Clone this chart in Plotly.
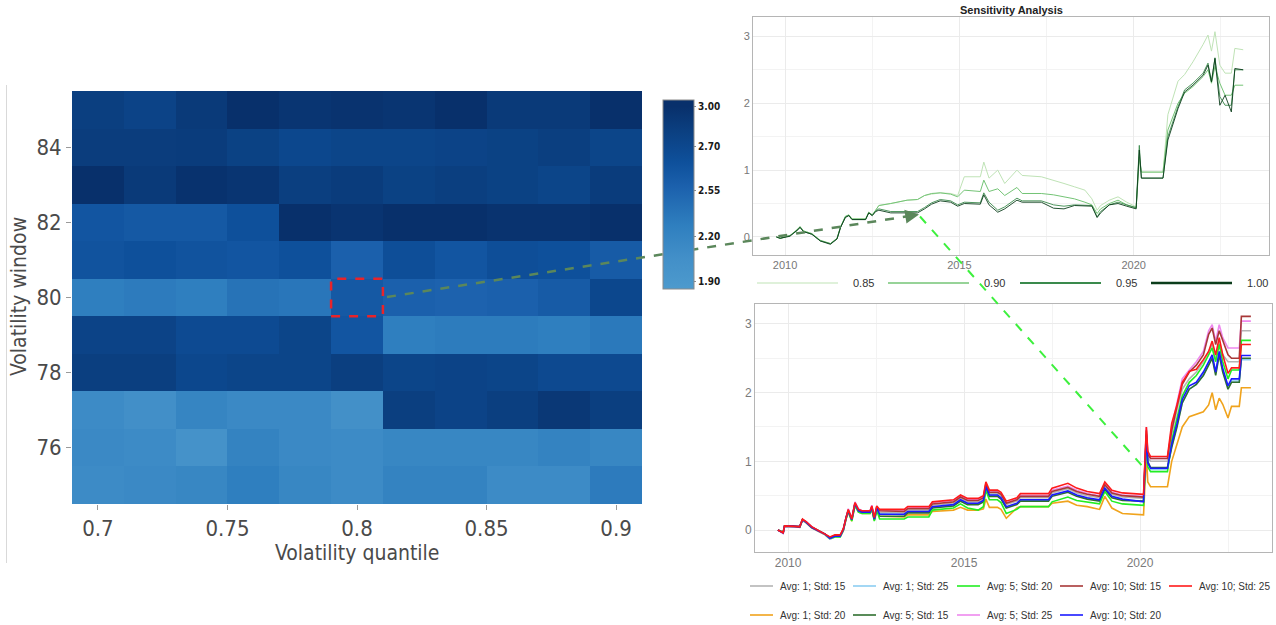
import plotly.graph_objects as go

W, H = 1276, 625

# ---------------- heatmap data ----------------
QUANTILES = [0.70, 0.72, 0.74, 0.76, 0.78, 0.80, 0.82, 0.84, 0.86, 0.88, 0.90]
WINDOWS = [75, 76, 77, 78, 79, 80, 81, 82, 83, 84, 85]
HEAT_Z = [
    [2.10, 2.12, 2.15, 2.25, 2.15, 2.10, 2.20, 2.20, 2.10, 2.10, 2.28],  # 75
    [2.12, 2.10, 2.00, 2.20, 2.12, 2.10, 2.15, 2.15, 2.15, 2.20, 2.15],  # 76
    [2.10, 2.05, 2.18, 2.12, 2.12, 2.03, 2.85, 2.80, 2.85, 2.92, 2.85],  # 77
    [2.85, 2.85, 2.75, 2.78, 2.78, 2.85, 2.78, 2.80, 2.78, 2.73, 2.73],  # 78
    [2.80, 2.80, 2.72, 2.72, 2.78, 2.60, 2.25, 2.27, 2.27, 2.25, 2.30],  # 79
    [2.25, 2.28, 2.25, 2.35, 2.32, 2.57, 2.50, 2.48, 2.50, 2.55, 2.75],  # 80
    [2.62, 2.65, 2.62, 2.60, 2.65, 2.50, 2.67, 2.60, 2.67, 2.65, 2.55],  # 81
    [2.60, 2.57, 2.57, 2.65, 3.00, 2.96, 3.00, 3.00, 2.97, 2.97, 3.00],  # 82
    [3.00, 2.90, 2.98, 2.95, 2.85, 2.88, 2.82, 2.85, 2.82, 2.78, 2.88],  # 83
    [2.87, 2.87, 2.88, 2.82, 2.75, 2.78, 2.78, 2.80, 2.82, 2.85, 2.78],  # 84
    [2.85, 2.80, 2.90, 3.00, 2.95, 2.97, 2.95, 3.00, 2.90, 2.90, 3.00],  # 85
]
X_TICKS = [0.7, 0.75, 0.8, 0.85, 0.9]
X_TICK_LABELS = ["0.7", "0.75", "0.8", "0.85", "0.9"]
Y_TICKS = [76, 78, 80, 82, 84]
CB_TICKVALS = [3.0, 2.75, 2.47, 2.18, 1.90]
CB_TICK_LABELS = ["3.00", "2.70", "2.55", "2.20", "1.90"]
HIGHLIGHT = (0.80, 80)

# ---------------- top chart data ----------------
TOP_DATES = [2009.75, 2009.86, 2010.14, 2010.34, 2010.43, 2010.53, 2010.77, 2011.01, 2011.30, 2011.49,
             2011.59, 2011.73, 2011.83, 2011.92, 2012.31, 2012.40, 2012.50, 2012.60, 2012.69, 2013.03,
             2013.50, 2013.80, 2014.00, 2014.20, 2014.45, 2014.75, 2014.95, 2015.14, 2015.60, 2015.70,
             2015.85, 2016.10, 2016.30, 2016.65, 2016.80, 2017.35, 2017.70, 2018.00, 2018.30, 2018.60,
             2018.80, 2018.95, 2019.05, 2019.30, 2019.55, 2019.80, 2020.07, 2020.16, 2020.22, 2020.84,
             2020.98, 2021.27, 2021.46, 2021.70, 2021.99, 2022.13, 2022.23, 2022.33, 2022.47, 2022.62,
             2022.80, 2022.90, 2023.14]
TOP_085 = [0.00, -0.02, 0.02, 0.10, 0.16, 0.09, 0.05, -0.05, -0.10, -0.02,
           0.15, 0.30, 0.33, 0.27, 0.27, 0.37, 0.33, 0.40, 0.47, 0.50,
           0.55, 0.56, 0.62, 0.64, 0.66, 0.65, 0.62, 0.90, 0.90, 1.12,
           0.88, 1.00, 0.80, 1.00, 0.92, 0.90, 0.85, 0.80, 0.75, 0.70,
           0.57, 0.40, 0.47, 0.55, 0.60, 0.52, 0.45, 1.15, 0.97, 0.97,
           1.83, 2.33, 2.43, 2.62, 2.88, 3.02, 2.78, 3.07, 2.57, 2.45,
           2.45, 2.82, 2.80]
TOP_090 = [0.00, -0.02, 0.02, 0.10, 0.15, 0.09, 0.05, -0.05, -0.10, -0.02,
           0.15, 0.31, 0.33, 0.27, 0.27, 0.37, 0.33, 0.40, 0.47, 0.50,
           0.55, 0.56, 0.62, 0.65, 0.66, 0.64, 0.60, 0.70, 0.68, 0.85,
           0.68, 0.72, 0.62, 0.74, 0.65, 0.65, 0.63, 0.60, 0.57, 0.52,
           0.48, 0.35, 0.42, 0.50, 0.55, 0.48, 0.43, 1.20, 0.97, 0.97,
           1.60, 2.00, 2.15, 2.25, 2.40, 2.50, 2.30, 2.55, 2.30, 2.12,
           2.12, 2.27, 2.27]
TOP_095 = [0.00, -0.02, 0.02, 0.09, 0.15, 0.08, 0.04, -0.06, -0.10, -0.03,
           0.14, 0.30, 0.32, 0.26, 0.26, 0.36, 0.32, 0.39, 0.42, 0.38,
           0.38, 0.38, 0.44, 0.51, 0.56, 0.54, 0.48, 0.52, 0.51, 0.66,
           0.52, 0.40, 0.45, 0.58, 0.54, 0.54, 0.48, 0.46, 0.48, 0.48,
           0.47, 0.30, 0.38, 0.48, 0.52, 0.48, 0.44, 1.37, 0.88, 0.88,
           1.50, 1.95, 2.20, 2.30, 2.45, 2.60, 2.32, 2.68, 2.10, 1.97,
           1.97, 2.50, 2.50]
TOP_100 = [0.00, -0.02, 0.01, 0.09, 0.14, 0.08, 0.04, -0.06, -0.11, -0.03,
           0.14, 0.29, 0.32, 0.26, 0.26, 0.36, 0.32, 0.38, 0.40, 0.36,
           0.36, 0.36, 0.42, 0.49, 0.54, 0.52, 0.46, 0.50, 0.49, 0.63,
           0.48, 0.37, 0.42, 0.55, 0.52, 0.52, 0.43, 0.42, 0.47, 0.47,
           0.46, 0.29, 0.36, 0.48, 0.50, 0.46, 0.42, 1.30, 0.88, 0.88,
           1.45, 1.92, 2.17, 2.27, 2.42, 2.57, 2.32, 2.67, 1.97, 2.12,
           1.87, 2.52, 2.50]
TOP_NAMES = ["0.85", "0.90", "0.95", "1.00"]
TOP_SERIES = [TOP_085, TOP_090, TOP_095, TOP_100]
TOP_COLORS = ["#bfe3b6", "#74c476", "#3a8a4c", "#0b3d1b"]
TOP_WIDTHS = [1.0, 1.0, 0.9, 0.9]
TOP_LEG_WIDTHS = [1.2, 1.6, 2.0, 2.4]
TOP_X_TICKS = [2010, 2015, 2020]
TOP_Y_TICKS = [0, 1, 2, 3]

# ---------------- bottom chart data ----------------
BOT_DATES = [2009.71, 2009.86, 2009.90, 2010.14, 2010.33, 2010.41, 2010.52, 2010.67, 2010.81, 2011.05,
             2011.19, 2011.33, 2011.48, 2011.57, 2011.65, 2011.71, 2011.81, 2011.90, 2012.00, 2012.10,
             2012.33, 2012.38, 2012.45, 2012.52, 2012.60, 2013.30, 2013.40, 2014.00, 2014.10, 2014.70,
             2014.90, 2015.10, 2015.40, 2015.55, 2015.62, 2015.72, 2015.95, 2016.05, 2016.20, 2016.50,
             2016.60, 2017.40, 2017.50, 2017.95, 2018.20, 2018.50, 2018.85, 2019.00, 2019.20, 2019.50,
             2020.10, 2020.18, 2020.22, 2020.30, 2020.78, 2020.90, 2021.05, 2021.20, 2021.40, 2021.60,
             2021.80, 2021.95, 2022.05, 2022.15, 2022.25, 2022.35, 2022.50, 2022.60, 2022.82, 2022.88,
             2023.15]
AVG1_STD15 = [0.00, -0.04, 0.05, 0.05, 0.05, 0.15, 0.11, 0.04, 0.00, -0.06, -0.12, -0.09, -0.09, 0.00, 0.18,
              0.28, 0.15, 0.38, 0.28, 0.26, 0.26, 0.33, 0.16, 0.33, 0.26,
              0.25, 0.29, 0.29, 0.36, 0.39, 0.46, 0.41, 0.41, 0.45, 0.65, 0.53, 0.53, 0.50, 0.37, 0.42,
              0.47, 0.47, 0.54, 0.60, 0.54, 0.50, 0.47, 0.64, 0.52, 0.48, 0.46,
              1.40, 1.05, 1.00, 1.00, 1.40, 1.75, 2.05, 2.20, 2.30, 2.45, 2.60, 2.70, 2.50, 2.75, 2.55,
              2.45, 2.45, 2.45, 2.90, 2.90]
AVG1_STD20 = [0.00, -0.04, 0.05, 0.05, 0.04, 0.14, 0.10, 0.03, -0.01, -0.07, -0.13, -0.10, -0.10, -0.01, 0.16,
              0.26, 0.13, 0.35, 0.26, 0.24, 0.24, 0.30, 0.14, 0.29, 0.20,
              0.19, 0.22, 0.22, 0.27, 0.29, 0.33, 0.29, 0.29, 0.31, 0.45, 0.33, 0.33, 0.30, 0.17, 0.32,
              0.34, 0.34, 0.39, 0.42, 0.36, 0.34, 0.30, 0.49, 0.32, 0.24, 0.22,
              1.10, 0.70, 0.63, 0.63, 1.00, 1.25, 1.50, 1.65, 1.68, 1.72, 1.82, 2.00, 1.75, 1.92, 1.83,
              1.63, 1.80, 1.80, 2.07, 2.07]
AVG1_STD25 = [0.00, -0.05, 0.05, 0.05, 0.04, 0.14, 0.10, 0.03, -0.01, -0.07, -0.13, -0.10, -0.10, -0.01, 0.17,
              0.27, 0.14, 0.37, 0.27, 0.25, 0.25, 0.32, 0.15, 0.31, 0.24,
              0.22, 0.26, 0.26, 0.33, 0.36, 0.43, 0.38, 0.38, 0.42, 0.62, 0.50, 0.50, 0.46, 0.33, 0.38,
              0.43, 0.43, 0.50, 0.56, 0.50, 0.46, 0.43, 0.60, 0.48, 0.44, 0.42,
              1.35, 0.98, 0.88, 0.88, 1.22, 1.52, 1.85, 2.05, 2.12, 2.26, 2.42, 2.52, 2.28, 2.55, 2.32,
              2.08, 2.17, 2.17, 2.48, 2.48]
AVG5_STD15 = [0.00, -0.04, 0.05, 0.05, 0.05, 0.15, 0.11, 0.04, 0.00, -0.06, -0.12, -0.09, -0.09, 0.00, 0.18,
              0.28, 0.15, 0.38, 0.28, 0.26, 0.26, 0.32, 0.15, 0.31, 0.20,
              0.20, 0.25, 0.25, 0.32, 0.35, 0.42, 0.37, 0.37, 0.41, 0.61, 0.49, 0.49, 0.45, 0.32, 0.37,
              0.42, 0.42, 0.49, 0.55, 0.49, 0.45, 0.42, 0.59, 0.47, 0.43, 0.42,
              1.40, 1.00, 0.91, 0.91, 1.20, 1.50, 1.85, 2.05, 2.12, 2.25, 2.40, 2.50, 2.25, 2.55, 2.30,
              2.05, 2.15, 2.15, 2.50, 2.50]
AVG5_STD20 = [0.00, -0.03, 0.06, 0.06, 0.05, 0.15, 0.11, 0.04, 0.00, -0.06, -0.12, -0.10, -0.10, 0.00, 0.17,
              0.27, 0.13, 0.36, 0.26, 0.24, 0.24, 0.31, 0.13, 0.29, 0.16,
              0.16, 0.19, 0.19, 0.29, 0.32, 0.38, 0.32, 0.29, 0.34, 0.58, 0.44, 0.44, 0.40, 0.24, 0.30,
              0.34, 0.34, 0.41, 0.48, 0.43, 0.41, 0.38, 0.56, 0.42, 0.38, 0.36,
              1.30, 0.92, 0.85, 0.85, 1.30, 1.65, 1.95, 2.15, 2.25, 2.40, 2.55, 2.65, 2.45, 2.70, 2.45,
              2.20, 2.33, 2.33, 2.76, 2.76]
AVG5_STD25 = [0.00, -0.05, 0.05, 0.05, 0.05, 0.15, 0.12, 0.05, 0.00, -0.06, -0.11, -0.08, -0.08, 0.01, 0.19,
              0.31, 0.17, 0.41, 0.31, 0.28, 0.28, 0.36, 0.19, 0.34, 0.29,
              0.28, 0.32, 0.33, 0.40, 0.43, 0.50, 0.45, 0.45, 0.49, 0.68, 0.57, 0.56, 0.53, 0.40, 0.45,
              0.50, 0.50, 0.58, 0.64, 0.58, 0.53, 0.50, 0.67, 0.55, 0.51, 0.49,
              1.50, 1.12, 1.04, 1.04, 1.50, 1.85, 2.20, 2.33, 2.45, 2.60, 2.90, 2.99, 2.75, 2.99, 2.80,
              2.65, 2.65, 2.65, 3.04, 3.04]
AVG10_STD15 = [0.00, -0.04, 0.06, 0.06, 0.04, 0.15, 0.11, 0.04, 0.00, -0.06, -0.11, -0.08, -0.08, 0.01, 0.19,
               0.29, 0.16, 0.39, 0.29, 0.27, 0.27, 0.34, 0.17, 0.34, 0.28,
               0.27, 0.31, 0.31, 0.38, 0.41, 0.48, 0.43, 0.43, 0.47, 0.67, 0.55, 0.55, 0.52, 0.39, 0.44,
               0.49, 0.49, 0.56, 0.62, 0.56, 0.52, 0.49, 0.66, 0.54, 0.50, 0.48,
               1.45, 1.10, 1.04, 1.04, 1.45, 1.80, 2.12, 2.30, 2.40, 2.55, 2.85, 2.94, 2.70, 2.90, 2.75,
               2.55, 2.50, 2.50, 3.11, 3.11]
AVG10_STD20 = [0.00, -0.04, 0.06, 0.06, 0.05, 0.15, 0.11, 0.04, 0.00, -0.06, -0.12, -0.09, -0.09, 0.01, 0.18,
               0.28, 0.15, 0.38, 0.28, 0.26, 0.26, 0.33, 0.16, 0.32, 0.23,
               0.23, 0.27, 0.27, 0.34, 0.37, 0.44, 0.39, 0.39, 0.43, 0.63, 0.51, 0.51, 0.47, 0.34, 0.39,
               0.44, 0.44, 0.51, 0.57, 0.51, 0.47, 0.44, 0.61, 0.49, 0.45, 0.41,
               1.38, 0.98, 0.90, 0.90, 1.25, 1.55, 1.90, 2.10, 2.15, 2.30, 2.45, 2.55, 2.30, 2.60, 2.35,
               2.10, 2.20, 2.20, 2.54, 2.54]
AVG10_STD25 = [0.00, -0.04, 0.06, 0.06, 0.05, 0.16, 0.12, 0.05, 0.01, -0.05, -0.10, -0.07, -0.07, 0.02, 0.20,
               0.30, 0.16, 0.40, 0.30, 0.28, 0.28, 0.35, 0.18, 0.35, 0.30,
               0.30, 0.34, 0.34, 0.41, 0.44, 0.51, 0.46, 0.46, 0.50, 0.70, 0.58, 0.58, 0.55, 0.42, 0.47,
               0.53, 0.53, 0.61, 0.68, 0.61, 0.56, 0.53, 0.70, 0.58, 0.54, 0.52,
               1.50, 1.15, 1.07, 1.07, 1.55, 1.82, 2.15, 2.31, 2.34, 2.48, 2.60, 2.75, 2.55, 2.80, 2.55,
               2.28, 2.36, 2.36, 2.70, 2.70]
BOT_NAMES = ["Avg: 1; Std: 15", "Avg: 1; Std: 20", "Avg: 1; Std: 25",
             "Avg: 5; Std: 15", "Avg: 5; Std: 20", "Avg: 5; Std: 25",
             "Avg: 10; Std: 15", "Avg: 10; Std: 20", "Avg: 10; Std: 25"]
BOT_SERIES = [AVG1_STD15, AVG1_STD20, AVG1_STD25, AVG5_STD15, AVG5_STD20, AVG5_STD25,
              AVG10_STD15, AVG10_STD20, AVG10_STD25]
BOT_COLORS = ["#b4b4b4", "#f0a31c", "#8ccdf2", "#2f6f2f", "#22ee22", "#ee88ee",
              "#a83838", "#1a1aff", "#ff1a1a"]
BOT_X_TICKS = [2010, 2015, 2020]
BOT_Y_TICKS = [0, 1, 2, 3]

# ---------------- helpers (pixel -> paper) ----------------
def px(x):
    return x / W

def py(y):
    return 1 - y / H

BLUES = [[0.0, "#4d9acd"], [0.168, "#428fc8"], [0.336, "#2f7fbf"], [0.546, "#1b60ac"],
         [0.672, "#0e509b"], [0.84, "#0b3f80"], [0.966, "#08306b"], [1.0, "#08306b"]]

HEAT_FONT = "DejaVu Sans Condensed, DejaVu Sans, sans-serif"
LINE_FONT = "Liberation Sans, Arial, sans-serif"

fig = go.Figure()

fig.add_trace(go.Heatmap(
    x=QUANTILES, y=WINDOWS, z=HEAT_Z, colorscale=BLUES, zmin=1.85, zmax=3.04,
    xaxis="x", yaxis="y", hoverinfo="skip",
    colorbar=dict(
        x=px(663), xanchor="left", xpad=0, y=py(194.5), yanchor="middle", ypad=0,
        len=189, lenmode="pixels", thickness=31, thicknessmode="pixels",
        outlinewidth=1, outlinecolor="#8a8a8a",
        tickvals=CB_TICKVALS, ticktext=CB_TICK_LABELS,
        ticks="outside", ticklen=2, tickcolor="#888",
        tickfont=dict(family=HEAT_FONT, size=10, color="#1a1a1a", weight="bold"),
    ),
))

for name, color, width, vals in zip(TOP_NAMES, TOP_COLORS, TOP_WIDTHS, TOP_SERIES):
    fig.add_trace(go.Scatter(x=TOP_DATES, y=vals, mode="lines", name=name,
                             line=dict(color=color, width=width),
                             xaxis="x2", yaxis="y2", showlegend=False))

for name, color, vals in zip(BOT_NAMES, BOT_COLORS, BOT_SERIES):
    fig.add_trace(go.Scatter(x=BOT_DATES, y=vals, mode="lines", name=name,
                             line=dict(color=color, width=1.6),
                             xaxis="x3", yaxis="y3", showlegend=False))

line_axis_common = dict(showgrid=True, gridcolor="#ebebeb", gridwidth=1, zeroline=False,
                        showline=True, mirror=True, linecolor="#b5b5b5", linewidth=1,
                        ticks="")

fig.update_layout(
    width=W, height=H, margin=dict(l=0, r=0, t=0, b=0),
    paper_bgcolor="white", plot_bgcolor="white", showlegend=False,
    xaxis=dict(domain=[px(72), px(642)], range=[0.69, 0.91], anchor="y",
               tickmode="array", tickvals=X_TICKS, ticktext=X_TICK_LABELS,
               ticks="outside", ticklen=5, tickcolor="#9a9a9a",
               tickfont=dict(family=HEAT_FONT, size=22, color="#4a4a4a"),
               showgrid=False, zeroline=False, showline=False),
    yaxis=dict(domain=[py(504), py(91)], range=[74.5, 85.5], anchor="x",
               tickmode="array", tickvals=Y_TICKS,
               ticks="outside", ticklen=5, tickcolor="#9a9a9a",
               tickfont=dict(family=HEAT_FONT, size=22, color="#4a4a4a"),
               showgrid=False, zeroline=False, showline=False),
    xaxis2=dict(domain=[px(753), px(1269)], range=[2009.08, 2023.88], anchor="y2",
                tickmode="array", tickvals=TOP_X_TICKS,
                tickfont=dict(family=LINE_FONT, size=11, color="#777"),
                minor=dict(tickvals=[2012.5, 2017.5, 2022.5], showgrid=True, gridcolor="#f3f3f3"),
                **line_axis_common),
    yaxis2=dict(domain=[py(255), py(17)], range=[-0.27, 3.29], anchor="x2",
                tickmode="array", tickvals=TOP_Y_TICKS,
                tickfont=dict(family=LINE_FONT, size=11, color="#777"),
                minor=dict(tickvals=[0.5, 1.5, 2.5], showgrid=True, gridcolor="#f3f3f3"),
                **line_axis_common),
    xaxis3=dict(domain=[px(755), px(1272)], range=[2009.06, 2023.75], anchor="y3",
                tickmode="array", tickvals=BOT_X_TICKS,
                tickfont=dict(family=LINE_FONT, size=12, color="#7a7a7a"),
                minor=dict(tickvals=[2012.5, 2017.5, 2022.5], showgrid=True, gridcolor="#f3f3f3"),
                **line_axis_common),
    yaxis3=dict(domain=[py(552), py(304)], range=[-0.32, 3.29], anchor="x3",
                tickmode="array", tickvals=BOT_Y_TICKS,
                tickfont=dict(family=LINE_FONT, size=12, color="#7a7a7a"),
                minor=dict(tickvals=[0.5, 1.5, 2.5], showgrid=True, gridcolor="#f3f3f3"),
                **line_axis_common),
)

shapes = []
annotations = []

# left panel border
shapes.append(dict(type="line", xref="paper", yref="paper", x0=px(6.5), x1=px(6.5),
                   y0=py(85), y1=py(563), line=dict(color="#d9d9d9", width=1)))

# highlighted cell in heatmap
hx, hy = HIGHLIGHT
shapes.append(dict(type="rect", xref="x", yref="y", x0=hx - 0.01, x1=hx + 0.01,
                   y0=hy - 0.5, y1=hy + 0.5, layer="above",
                   line=dict(color="#e8242a", width=2.5, dash="dash")))

# connector: heatmap cell -> top chart
arrow_start = (387, 297)
arrow_end = (919, 214.5)
shapes.append(dict(type="line", xref="paper", yref="paper", layer="above",
                   x0=px(arrow_start[0]), y0=py(arrow_start[1]),
                   x1=px(arrow_end[0] - 8), y1=py(arrow_end[1] + 1.3),
                   line=dict(color="#5b875b", width=2.5, dash="dash")))
dxp = arrow_end[0] - arrow_start[0]
dyp = arrow_end[1] - arrow_start[1]
ln = (dxp ** 2 + dyp ** 2) ** 0.5
annotations.append(dict(xref="paper", yref="paper", x=px(arrow_end[0]), y=py(arrow_end[1]),
                        ax=-dxp / ln * 12, ay=-dyp / ln * 12, axref="pixel", ayref="pixel",
                        showarrow=True, arrowhead=2, arrowsize=1.1, arrowwidth=2.5,
                        arrowcolor="#5b875b", text=""))

# connector: top chart -> bottom chart
shapes.append(dict(type="line", xref="paper", yref="paper", layer="above",
                   x0=px(920), y0=py(216.5), x1=px(1144), y1=py(468),
                   line=dict(color="#3df03d", width=2, dash="dash")))

# title of top chart
annotations.append(dict(xref="paper", yref="paper", x=px(1011), y=py(10), xanchor="center",
                        yanchor="middle", showarrow=False, text="<b>Sensitivity Analysis</b>",
                        font=dict(family=LINE_FONT, size=11, color="#222")))

# heatmap axis titles
annotations.append(dict(xref="paper", yref="paper", x=px(357), y=py(553), xanchor="center",
                        yanchor="middle", showarrow=False, text="Volatility quantile",
                        font=dict(family=HEAT_FONT, size=21, color="#4a4a4a")))
annotations.append(dict(xref="paper", yref="paper", x=px(19), y=py(297), xanchor="center",
                        yanchor="middle", showarrow=False, text="Volatility window", textangle=-90,
                        font=dict(family=HEAT_FONT, size=21, color="#4a4a4a")))

# top legend (custom keys)
top_key_x = [757, 888, 1020, 1151]
for i, (name, color, lw) in enumerate(zip(TOP_NAMES, TOP_COLORS, TOP_LEG_WIDTHS)):
    x0 = top_key_x[i]
    shapes.append(dict(type="line", xref="paper", yref="paper", x0=px(x0), x1=px(x0 + 81),
                       y0=py(283), y1=py(283), line=dict(color=color, width=lw)))
    annotations.append(dict(xref="paper", yref="paper", x=px(x0 + 106), y=py(283),
                            xanchor="center", yanchor="middle", showarrow=False, text=name,
                            font=dict(family=LINE_FONT, size=11, color="#333")))

# bottom legend (custom keys, 2 rows filled by column)
bot_col_x = [750, 853, 957, 1060, 1169]
bot_row_y = [586, 615]
for i, (name, color) in enumerate(zip(BOT_NAMES, BOT_COLORS)):
    col, row = i // 2, i % 2
    x0 = bot_col_x[col]
    y0 = bot_row_y[row]
    shapes.append(dict(type="line", xref="paper", yref="paper", x0=px(x0), x1=px(x0 + 23),
                       y0=py(y0), y1=py(y0), line=dict(color=color, width=1.6)))
    annotations.append(dict(xref="paper", yref="paper", x=px(x0 + 28), y=py(y0),
                            xanchor="left", yanchor="middle", showarrow=False, text=name,
                            font=dict(family=LINE_FONT, size=10, color="#333")))

fig.update_layout(shapes=shapes, annotations=annotations)

fig.write_html("out.html", config={"displayModeBar": False},
               post_script="document.body.style.margin='0';")
